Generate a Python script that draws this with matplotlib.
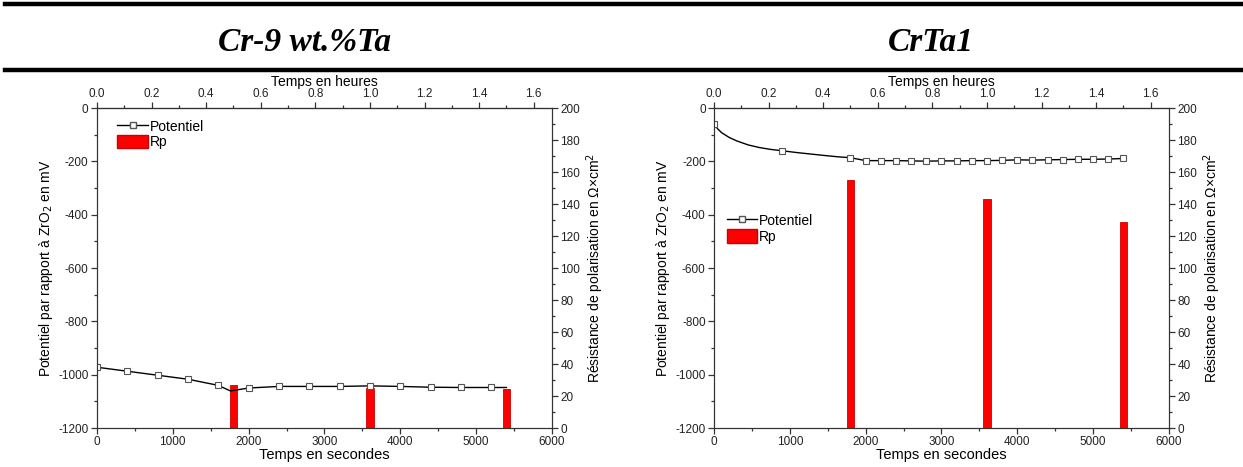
import matplotlib
matplotlib.use('Agg')
import matplotlib.pyplot as plt
from matplotlib.lines import Line2D
from matplotlib.patches import Patch
from matplotlib.ticker import MultipleLocator

plt.rcParams['font.family'] = ['Liberation Sans', 'DejaVu Sans']
plt.rcParams['axes.unicode_minus'] = False

# panel titles
titles = ['Cr-9 wt.%Ta', 'CrTa1']

# Cr-9 wt.%Ta : potential (mV) vs time (s)
left_t = [0, 400, 800, 1200, 1600, 1760, 2000, 2400, 2800, 3200, 3600,
          4000, 4400, 4800, 5200, 5400]
left_e = [-972, -987, -1002, -1017, -1040, -1061, -1050, -1044, -1044,
          -1044, -1042, -1044, -1047, -1048, -1048, -1048]
left_marks = [0, 1, 2, 3, 4, 6, 7, 8, 9, 10, 11, 12, 13, 14]

# CrTa1 : potential (mV) vs time (s)
right_t = [0, 50, 100, 200, 300, 450, 600, 750, 900, 1100, 1300, 1500,
           1650, 1800, 2000, 2200, 2400, 2600, 2800, 3000, 3200, 3400,
           3600, 3800, 4000, 4200, 4400, 4600, 4800, 5000, 5200, 5400]
right_e = [-60, -78, -92, -110, -123, -138, -148, -155, -160, -167, -173,
           -179, -183, -186, -197, -197, -197, -198, -199, -198, -198,
           -197, -197, -196, -194, -195, -194, -193, -192, -192, -191, -189]
right_marks = [0, 8] + list(range(13, 32))

# polarisation resistance (ohm.cm2)
rp_t = [1800, 3600, 5400]
left_rp = [27, 25, 24.5]
right_rp = [155, 143, 129]

fig = plt.figure(figsize=(12.43, 4.67), dpi=100)

# table-like header lines
fig.add_artist(Line2D([0.004, 1.0], [0.991, 0.991], color='black', lw=3.2))
fig.add_artist(Line2D([0.004, 1.0], [0.850, 0.850], color='black', lw=3.2))
for x, title in zip([0.245, 0.749], titles):
    fig.text(x, 0.91, title, ha='center', va='center', fontsize=24,
             family='Liberation Serif', weight='bold', style='italic')


def panel(left, t, e, marks, rp, leg_pos):
    ax = fig.add_axes([left, 0.0835, 0.366, 0.685])
    ax2 = ax.twinx()
    ax.set_zorder(ax2.get_zorder() + 1)
    ax.patch.set_visible(False)

    ax2.bar(rp_t, rp, width=100, color='#ff0000', edgecolor='#cc0000',
            linewidth=0.6)
    ax.plot(t, e, color='black', lw=1.0, marker='s', markersize=5,
            markerfacecolor='white', markeredgecolor='#555555',
            markeredgewidth=0.8, markevery=marks)

    ax.set_xlim(0, 6000)
    ax.set_ylim(-1200, 0)
    ax2.set_ylim(0, 200)
    ax.xaxis.set_major_locator(MultipleLocator(1000))
    ax.xaxis.set_minor_locator(MultipleLocator(500))
    ax.yaxis.set_major_locator(MultipleLocator(200))
    ax.yaxis.set_minor_locator(MultipleLocator(100))
    ax2.yaxis.set_major_locator(MultipleLocator(20))
    ax2.yaxis.set_minor_locator(MultipleLocator(10))

    top = ax.secondary_xaxis('top', functions=(lambda s: s / 3600.0,
                                               lambda h: h * 3600.0))
    top.xaxis.set_major_locator(MultipleLocator(0.2))
    top.xaxis.set_minor_locator(MultipleLocator(0.1))
    top.xaxis.set_major_formatter(matplotlib.ticker.FormatStrFormatter('%.1f'))
    top.set_xlabel('Temps en heures', fontsize=10, labelpad=1)

    for a in (ax, ax2, top):
        a.tick_params(which='major', length=4, width=0.9, labelsize=8.5,
                      pad=2, color='#333333', labelcolor='#222222')
        a.tick_params(which='minor', length=2.5, width=0.9, color='#333333')
    for s in ax.spines.values():
        s.set_color('#333333')
    for s in ax2.spines.values():
        s.set_color('#333333')

    ax.set_xlabel('Temps en secondes', fontsize=10.5, labelpad=0)
    ax.set_ylabel('Potentiel par rapport à ZrO$_2$ en mV', fontsize=10,
                  labelpad=2)
    ax2.set_ylabel('Résistance de polarisation en Ω×cm$^2$', fontsize=10,
                   labelpad=3)

    handles = [Line2D([], [], color='black', lw=1.0, marker='s', markersize=5,
                      markerfacecolor='white', markeredgecolor='#555555'),
               Patch(facecolor='#ff0000', edgecolor='#cc0000')]
    ax.legend(handles, ['Potentiel', 'Rp'], loc='upper left',
              bbox_to_anchor=leg_pos, frameon=False, fontsize=10,
              handlelength=2.2, handleheight=1.1, handletextpad=0.15,
              labelspacing=0.1, borderaxespad=0, borderpad=0)


panel(0.078, left_t, left_e, left_marks, left_rp, (0.045, 0.965))
panel(0.5744, right_t, right_e, right_marks, right_rp, (0.028, 0.67))

fig.savefig('out.png', dpi=100)
